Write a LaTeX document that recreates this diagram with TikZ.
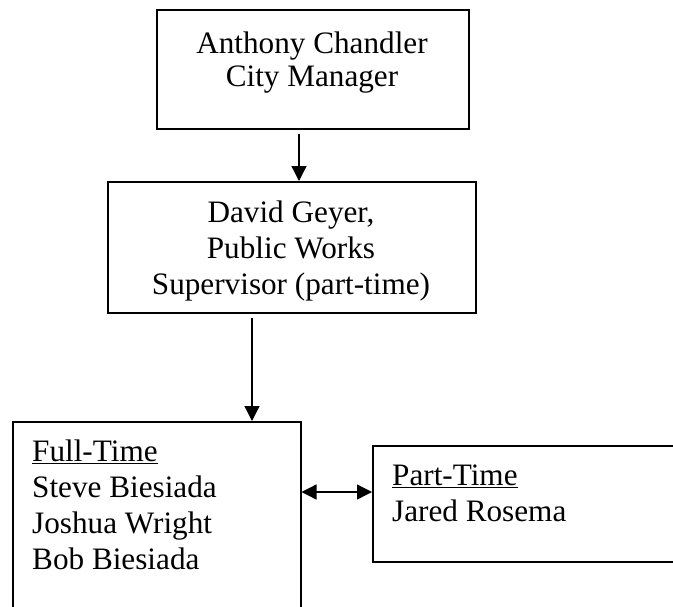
\documentclass[tikz,border=0pt]{standalone}
\usepackage{fontspec}
\setmainfont{Liberation Serif}
\usetikzlibrary{arrows.meta}
\begin{document}
\begin{tikzpicture}[x=1pt,y=-1pt,
  box/.style={draw, line width=1.5pt, inner sep=0pt, anchor=north west},
  txt/.style={inner sep=0pt, font=\fontsize{31.2}{36}\selectfont},
  arr/.style={line width=1.3pt, -{Triangle[length=15pt,width=15pt]}, shorten <=4pt},
  darr/.style={line width=1.3pt, {Triangle[length=15pt,width=15pt]}-{Triangle[length=15pt,width=15pt]}}]
\useasboundingbox (0,0) rectangle (673,606);
\clip (0,0) rectangle (673,606);
% boxes
\node[box, minimum width=312pt, minimum height=119pt] (top) at (156,9) {};
\node[box, minimum width=368pt, minimum height=131pt] (mid) at (107,181) {};
\node[box, minimum width=288pt, minimum height=230pt] (ft) at (12,421) {};
\node[box, minimum width=340pt, minimum height=116pt] (pt) at (372,445) {};
% texts
\node[txt, anchor=base] (t1) at (312,53) {Anthony Chandler};
\node[txt, anchor=base] (t2) at (312,86) {City Manager};
\node[txt, anchor=base] (m1) at (291,222) {David Geyer,};
\node[txt, anchor=base] (m2) at (291,258) {Public Works};
\node[txt, anchor=base] (m3) at (291,294) {Supervisor (part-time)};
\node[txt, anchor=base west] (f1) at (32,461) {\underline{Full-Time}};
\node[txt, anchor=base west] (f2) at (32,497) {Steve Biesiada};
\node[txt, anchor=base west] (f3) at (32,533) {Joshua Wright};
\node[txt, anchor=base west] (f4) at (32,569) {Bob Biesiada};
\node[txt, anchor=base west] (p1) at (392,485) {\underline{Part-Time}};
\node[txt, anchor=base west] (p2) at (392,521) {Jared Rosema};
% connectors
\coordinate (c1) at (299,0);
\coordinate (c2) at (252,0);
\coordinate (c3) at (0,492);
\draw[arr] (top.south -| c1) -- (mid.north -| c1);
\draw[arr] (mid.south -| c2) -- (ft.north -| c2);
\draw[darr] (ft.east |- c3) -- (pt.west |- c3);
\end{tikzpicture}
\end{document}
